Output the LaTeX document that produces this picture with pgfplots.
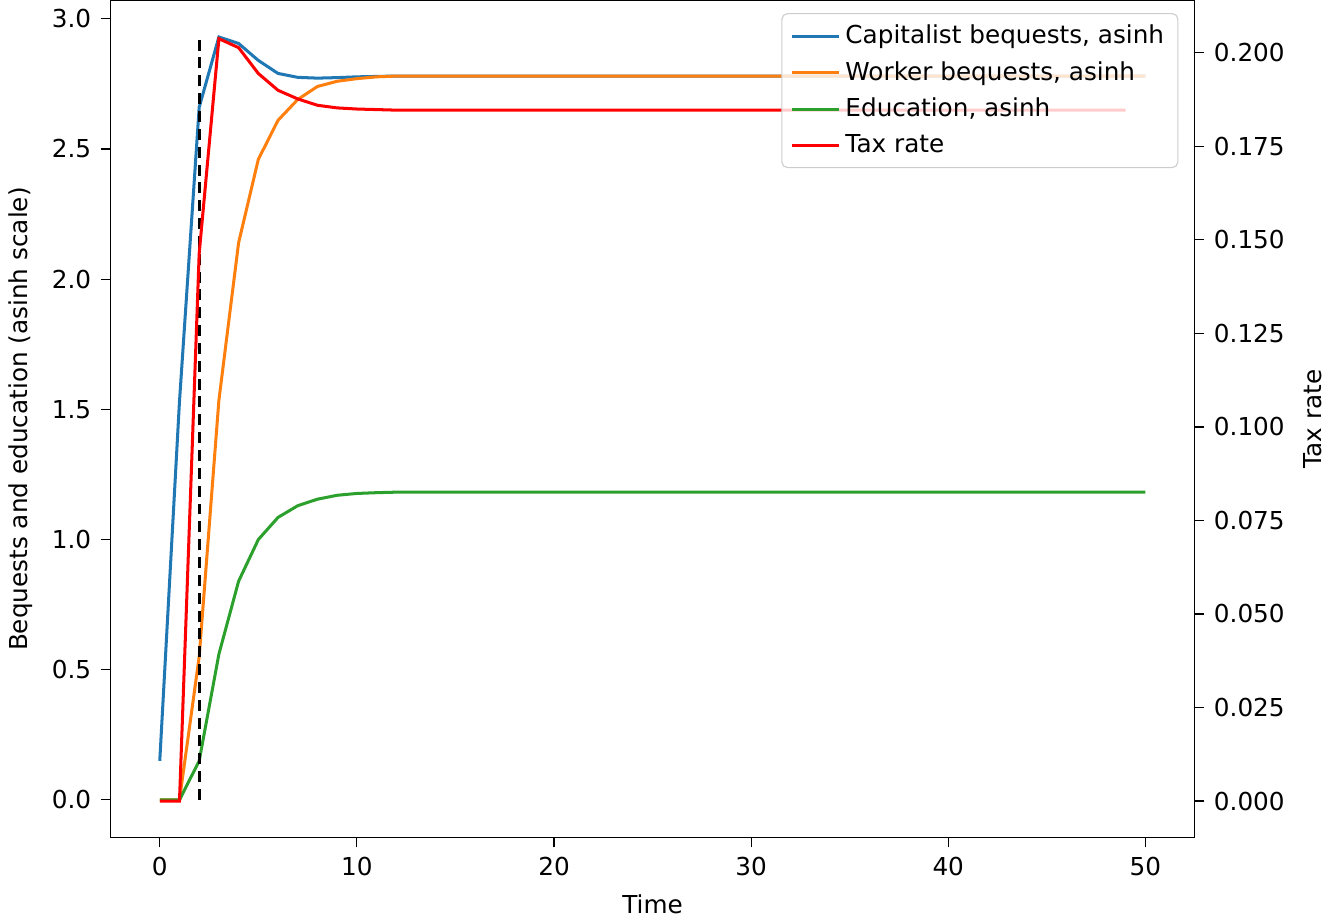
\documentclass[border=0pt]{standalone}
\usepackage{pgfplots}
\pgfplotsset{compat=1.18}
\usepackage{fontspec}
\setmainfont{DejaVu Sans}
\definecolor{c1}{HTML}{1F77B4}\definecolor{c2}{HTML}{FF7F0E}\definecolor{c3}{HTML}{2CA02C}
\begin{document}
\begin{tikzpicture}
\pgfplotsset{every axis/.style={scale only axis,width=395pt,height=305pt,xmin=-2.5,xmax=52.5,
 tick align=outside,tick style={black,thin},major tick length=3.5pt,
 /pgf/number format/assume math mode=true,font=\fontsize{9}{11}\selectfont,
 every axis plot/.append style={line width=1.1pt}}}
\begin{axis}[axis y line*=left, axis x line*=bottom, ymin=-0.145,ymax=3.07,
 ytick={0,0.5,1,1.5,2,2.5,3},yticklabel style={/pgf/number format/.cd,fixed,fixed zerofill,precision=1},
 xtick={0,10,20,30,40,50},xlabel={Time},ylabel={Bequests and education (asinh scale)}]
\addplot[c1] coordinates {(0,0.15)(1,1.53)(2,2.66)(3,2.93)(4,2.905)(5,2.84)(6,2.79)(7,2.775)(8,2.772)(9,2.774)(10,2.777)(12,2.78)(50,2.78)};
\addplot[c2] coordinates {(0,0)(1,0)(2,0.55)(3,1.535)(4,2.14)(5,2.46)(6,2.61)(7,2.69)(8,2.74)(9,2.76)(10,2.77)(11,2.777)(12,2.78)(50,2.78)};
\addplot[c3] coordinates {(0,0)(1,0)(2,0.15)(3,0.56)(4,0.84)(5,1.0)(6,1.085)(7,1.13)(8,1.155)(9,1.17)(10,1.177)(11,1.18)(12,1.182)(50,1.182)};
\addplot[black,line width=1.1pt,dash pattern=on 4pt off 2.5pt] coordinates {(2,0)(2,2.92)};
\end{axis}
\begin{axis}[axis y line*=right,axis x line*=top,xtick=\empty,ymin=-0.0098,ymax=0.214,
 ytick={0,0.025,0.05,0.075,0.1,0.125,0.15,0.175,0.2},
 yticklabel style={/pgf/number format/.cd,fixed,fixed zerofill,precision=3},ylabel={Tax rate},
 legend style={at={(0.985,0.985)},anchor=north east,draw=black!20,rounded corners=2pt,fill=white,fill opacity=0.8,text opacity=1,
   font=\fontsize{9}{11}\selectfont,cells={anchor=west},row sep=1pt},
 legend image post style={line width=1.1pt}]
\addlegendimage{c1}\addlegendentry{Capitalist bequests, asinh}
\addlegendimage{c2}\addlegendentry{Worker bequests, asinh}
\addlegendimage{c3}\addlegendentry{Education, asinh}
\addplot[red] coordinates {(0,0)(1,0)(2,0.1464)(3,0.2038)(4,0.2014)(5,0.1945)(6,0.190)(7,0.1877)(8,0.186)(9,0.1853)(10,0.185)(12,0.1847)(49,0.1847)};
\addlegendentry{Tax rate}
\end{axis}
\end{tikzpicture}
\end{document}
